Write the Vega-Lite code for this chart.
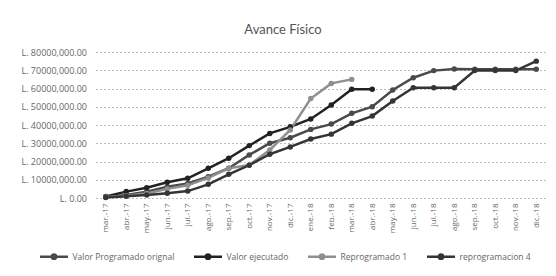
{
  "$schema": "https://vega.github.io/schema/vega-lite/v6.json",
  "width": 451,
  "height": 146,
  "autosize": {"type": "none"},
  "padding": {"left": 95.5, "top": 52, "right": 9.5, "bottom": 78},
  "background": "white",
  "title": {"text": "Avance Físico", "fontSize": 13, "font": "Lato", "fontWeight": "normal", "color": "#555555", "offset": 11, "dx": -38},
  "datasets": {
    "d": [
      {"mes": "mar.-17", "serie": "Valor Programado orignal", "valor": 500000},
      {"mes": "abr.-17", "serie": "Valor Programado orignal", "valor": 1600000},
      {"mes": "may.-17", "serie": "Valor Programado orignal", "valor": 3500000},
      {"mes": "jun.-17", "serie": "Valor Programado orignal", "valor": 6200000},
      {"mes": "jul.-17", "serie": "Valor Programado orignal", "valor": 8000000},
      {"mes": "ago.-17", "serie": "Valor Programado orignal", "valor": 11700000},
      {"mes": "sep.-17", "serie": "Valor Programado orignal", "valor": 16300000},
      {"mes": "oct.-17", "serie": "Valor Programado orignal", "valor": 23600000},
      {"mes": "nov.-17", "serie": "Valor Programado orignal", "valor": 30000000},
      {"mes": "dic.-17", "serie": "Valor Programado orignal", "valor": 33000000},
      {"mes": "ene.-18", "serie": "Valor Programado orignal", "valor": 37600000},
      {"mes": "feb.-18", "serie": "Valor Programado orignal", "valor": 40500000},
      {"mes": "mar.-18", "serie": "Valor Programado orignal", "valor": 46400000},
      {"mes": "abr.-18", "serie": "Valor Programado orignal", "valor": 50000000},
      {"mes": "may.-18", "serie": "Valor Programado orignal", "valor": 59200000},
      {"mes": "jun.-18", "serie": "Valor Programado orignal", "valor": 65900000},
      {"mes": "jul.-18", "serie": "Valor Programado orignal", "valor": 69800000},
      {"mes": "ago.-18", "serie": "Valor Programado orignal", "valor": 70700000},
      {"mes": "sep.-18", "serie": "Valor Programado orignal", "valor": 70500000},
      {"mes": "oct.-18", "serie": "Valor Programado orignal", "valor": 70500000},
      {"mes": "nov.-18", "serie": "Valor Programado orignal", "valor": 70500000},
      {"mes": "dic.-18", "serie": "Valor Programado orignal", "valor": 70500000},
      {"mes": "mar.-17", "serie": "Valor ejecutado", "valor": 800000},
      {"mes": "abr.-17", "serie": "Valor ejecutado", "valor": 3500000},
      {"mes": "may.-17", "serie": "Valor ejecutado", "valor": 5600000},
      {"mes": "jun.-17", "serie": "Valor ejecutado", "valor": 8600000},
      {"mes": "jul.-17", "serie": "Valor ejecutado", "valor": 10800000},
      {"mes": "ago.-17", "serie": "Valor ejecutado", "valor": 16300000},
      {"mes": "sep.-17", "serie": "Valor ejecutado", "valor": 21800000},
      {"mes": "oct.-17", "serie": "Valor ejecutado", "valor": 28700000},
      {"mes": "nov.-17", "serie": "Valor ejecutado", "valor": 35400000},
      {"mes": "dic.-17", "serie": "Valor ejecutado", "valor": 39000000},
      {"mes": "ene.-18", "serie": "Valor ejecutado", "valor": 43300000},
      {"mes": "feb.-18", "serie": "Valor ejecutado", "valor": 51000000},
      {"mes": "mar.-18", "serie": "Valor ejecutado", "valor": 59600000},
      {"mes": "abr.-18", "serie": "Valor ejecutado", "valor": 59600000},
      {"mes": "mar.-17", "serie": "Reprogramado 1", "valor": 500000},
      {"mes": "abr.-17", "serie": "Reprogramado 1", "valor": 1200000},
      {"mes": "may.-17", "serie": "Reprogramado 1", "valor": 2500000},
      {"mes": "jun.-17", "serie": "Reprogramado 1", "valor": 5000000},
      {"mes": "jul.-17", "serie": "Reprogramado 1", "valor": 7000000},
      {"mes": "ago.-17", "serie": "Reprogramado 1", "valor": 11000000},
      {"mes": "sep.-17", "serie": "Reprogramado 1", "valor": 16300000},
      {"mes": "oct.-17", "serie": "Reprogramado 1", "valor": 18100000},
      {"mes": "nov.-17", "serie": "Reprogramado 1", "valor": 26300000},
      {"mes": "dic.-17", "serie": "Reprogramado 1", "valor": 37300000},
      {"mes": "ene.-18", "serie": "Reprogramado 1", "valor": 54500000},
      {"mes": "feb.-18", "serie": "Reprogramado 1", "valor": 62800000},
      {"mes": "mar.-18", "serie": "Reprogramado 1", "valor": 65000000},
      {"mes": "mar.-17", "serie": "reprogramacion 4", "valor": 300000},
      {"mes": "abr.-17", "serie": "reprogramacion 4", "valor": 1000000},
      {"mes": "may.-17", "serie": "reprogramacion 4", "valor": 1600000},
      {"mes": "jun.-17", "serie": "reprogramacion 4", "valor": 2600000},
      {"mes": "jul.-17", "serie": "reprogramacion 4", "valor": 3800000},
      {"mes": "ago.-17", "serie": "reprogramacion 4", "valor": 7500000},
      {"mes": "sep.-17", "serie": "reprogramacion 4", "valor": 13000000},
      {"mes": "oct.-17", "serie": "reprogramacion 4", "valor": 18000000},
      {"mes": "nov.-17", "serie": "reprogramacion 4", "valor": 24000000},
      {"mes": "dic.-17", "serie": "reprogramacion 4", "valor": 28000000},
      {"mes": "ene.-18", "serie": "reprogramacion 4", "valor": 32300000},
      {"mes": "feb.-18", "serie": "reprogramacion 4", "valor": 35000000},
      {"mes": "mar.-18", "serie": "reprogramacion 4", "valor": 40900000},
      {"mes": "abr.-18", "serie": "reprogramacion 4", "valor": 44900000},
      {"mes": "may.-18", "serie": "reprogramacion 4", "valor": 53200000},
      {"mes": "jun.-18", "serie": "reprogramacion 4", "valor": 60400000},
      {"mes": "jul.-18", "serie": "reprogramacion 4", "valor": 60400000},
      {"mes": "ago.-18", "serie": "reprogramacion 4", "valor": 60400000},
      {"mes": "sep.-18", "serie": "reprogramacion 4", "valor": 69800000},
      {"mes": "oct.-18", "serie": "reprogramacion 4", "valor": 69800000},
      {"mes": "nov.-18", "serie": "reprogramacion 4", "valor": 69800000},
      {"mes": "dic.-18", "serie": "reprogramacion 4", "valor": 75000000}
    ]
  },
  "data": {"name": "d"},
  "mark": {"type": "line", "strokeWidth": 2.5, "point": {"filled": true, "size": 30}},
  "encoding": {
    "x": {
      "field": "mes", "type": "ordinal", "title": null,
      "sort": ["mar.-17","abr.-17","may.-17","jun.-17","jul.-17","ago.-17","sep.-17","oct.-17","nov.-17","dic.-17","ene.-18","feb.-18","mar.-18","abr.-18","may.-18","jun.-18","jul.-18","ago.-18","sep.-18","oct.-18","nov.-18","dic.-18"],
      "scale": {"type": "point", "padding": 0.5},
      "axis": {"labelAngle": -90, "labelFont": "Open Sans", "labelFontSize": 8, "labelColor": "#666666", "ticks": false, "domain": false, "grid": false, "labelPadding": 5}
    },
    "y": {
      "field": "valor", "type": "quantitative", "title": null,
      "scale": {"domain": [0, 80000000], "nice": false},
      "axis": {"values": [0,10000000,20000000,30000000,40000000,50000000,60000000,70000000,80000000],
        "labelExpr": "datum.value == 0 ? 'L. 0.00' : 'L. ' + floor(datum.value/1000) + ',000.00'",
        "labelFont": "Open Sans", "labelFontSize": 9, "labelColor": "#666666", "ticks": false, "domain": false, "labelPadding": 9,
        "grid": true, "gridColor": "#bbbbbb", "gridDash": [2, 2], "gridWidth": 1}
    },
    "color": {
      "field": "serie", "type": "nominal", "title": null,
      "scale": {"domain": ["Valor Programado orignal", "Valor ejecutado", "Reprogramado 1", "reprogramacion 4"], "range": ["#4a4a4a", "#222222", "#8f8f8f", "#353535"]},
      "legend": {"orient": "none", "legendX": -57, "legendY": 189, "direction": "horizontal",
        "symbolType": "M-1,0H1M-0.15,0A0.15,0.15 0 1,1 0.15,0A0.15,0.15 0 1,1 -0.15,0",
        "symbolSize": 784, "symbolStrokeWidth": 2.5, "labelFont": "Open Sans", "labelFontSize": 8.5, "labelColor": "#666666", "columnPadding": 14, "labelOffset": 3}
    }
  },
  "config": {"view": {"stroke": null}}
}
